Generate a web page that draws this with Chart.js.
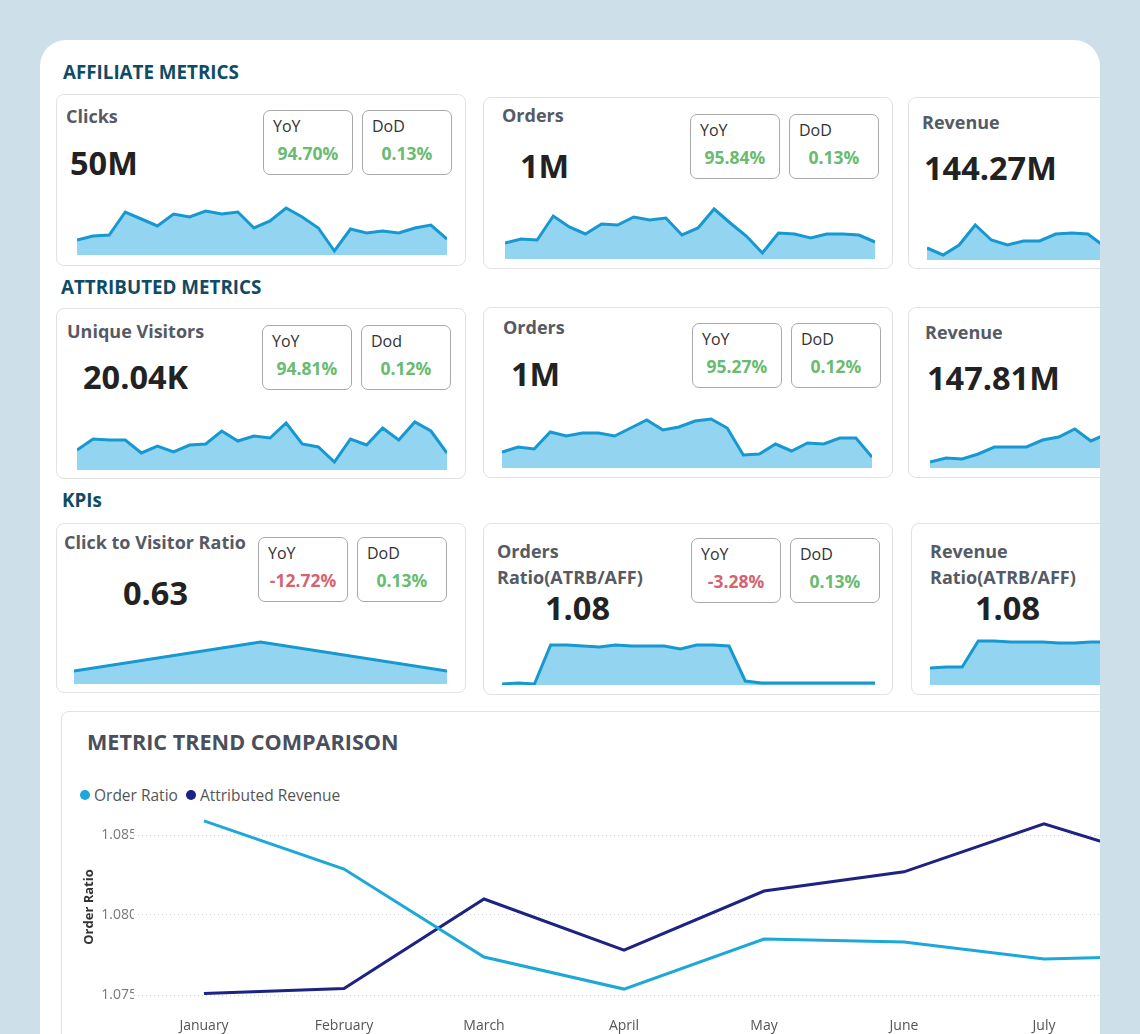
<!DOCTYPE html>
<html>
<head>
<meta charset="utf-8">
<script src="https://cdn.jsdelivr.net/npm/chart.js@4.4.1/dist/chart.umd.min.js"></script>
<style>
  body { margin: 0; width: 1140px; height: 1034px; overflow: hidden; background: #cddfe8; font-family: "Open Sans", sans-serif; }
  #panel { position: absolute; left: 40px; top: 40px; width: 1060px; height: 1100px; background: #fff; border-radius: 26px; overflow: hidden; }
  .abs { position: absolute; white-space: nowrap; }
  .mid { transform: translateY(-50%); }
  .section { font-weight: 700; font-size: 18.8px; color: #0f4c64; }
  .card { position: absolute; background: #fff; border: 1px solid #e2e2e2; border-radius: 8px; box-sizing: border-box; }
  .ctitle { font-weight: 700; font-size: 18px; color: #555a64; line-height: 26px; }
  .cvalue { font-weight: 700; font-size: 32.5px; color: #222; }
  .pill { position: absolute; width: 90px; height: 65px; border: 1px solid #a9a9a9; border-radius: 7px; box-sizing: border-box; }
  .plabel { position: absolute; left: 9px; top: 4px; font-size: 16px; color: #333; }
  .pval { position: absolute; left: 0; right: 0; top: 30px; text-align: center; font-size: 17.5px; font-weight: 700; }
  .legend { position: absolute; display: flex; align-items: center; font-size: 15.5px; color: #555; }
  .legend span.dot { display: inline-block; width: 10px; height: 10px; border-radius: 50%; margin-right: 4px; }
  .legend span.item { margin-right: 8px; display: flex; align-items: center; }
</style>
</head>
<body>
<div id="panel"></div>
<script>
// KPI cards
const cardTitles = ['Clicks', 'Orders', 'Revenue', 'Unique Visitors', 'Orders', 'Revenue',
  'Click to Visitor Ratio', 'Orders\nRatio(ATRB/AFF)', 'Revenue\nRatio(ATRB/AFF)'];
const cardValues = ['50M', '1M', '144.27M', '20.04K', '1M', '147.81M', '0.63', '1.08', '1.08'];
const yoyValues = ['94.70%', '95.84%', null, '94.81%', '95.27%', null, '-12.72%', '-3.28%', null];
const dodValues = ['0.13%', '0.13%', null, '0.12%', '0.12%', null, '0.13%', '0.13%', null];
const dodLabels = ['DoD', 'DoD', 'DoD', 'Dod', 'DoD', 'DoD', 'DoD', 'DoD', 'DoD'];

// daily trend sparklines (relative level)
const clicksTrend = [15, 19, 20, 43, 36, 29, 41, 38, 44, 41, 43, 27, 34, 47, 38, 27, 4, 26, 22, 24, 22, 27, 30, 16];
const affOrdersTrend = [16, 20, 19, 43, 32, 25, 35, 34, 42, 39, 41, 24, 31, 50, 36, 23, 6, 26, 25, 21, 25, 25, 24, 17];
const affRevenueTrend = [12, 5, 15, 35, 20, 15, 19, 19, 26, 27, 26, 14];
const visitorsTrend = [20, 31, 30, 30, 17, 24, 18, 25, 26, 39, 29, 34, 32, 47, 26, 23, 8, 31, 25, 42, 30, 48, 39, 17];
const atrOrdersTrend = [16, 21, 19, 36, 32, 35, 35, 32, 40, 48, 38, 41, 47, 49, 40, 13, 14, 24, 17, 25, 24, 30, 30, 11];
const atrRevenueTrend = [6, 10, 9, 14, 21, 21, 21, 28, 31, 39, 27, 34];
const clickRatioTrend = [13, 42, 13];
const orderRatioTrend = [1, 2, 1, 40, 40, 39, 38, 40, 39, 39, 39, 36, 40, 40, 39, 4, 2, 2, 2, 2, 2, 2, 2, 2];
const revenueRatioTrend = [17, 18, 18, 44, 44, 43, 43, 43, 42, 42, 43, 43];
const sparkSeries = [clicksTrend, affOrdersTrend, affRevenueTrend, visitorsTrend, atrOrdersTrend,
  atrRevenueTrend, clickRatioTrend, orderRatioTrend, revenueRatioTrend];
const sparkDays = [24, 24, 24, 24, 24, 24, 3, 24, 24];

// trend comparison
const months = ['January', 'February', 'March', 'April', 'May', 'June', 'July', 'August'];
const orderRatio = [1.08588, 1.08287, 1.07737, 1.07537, 1.0785, 1.07831, 1.07725, 1.07747];
const attributedRevenue = [17.96, 17.99, 18.55, 18.23, 18.60, 18.72, 19.02, 18.75];
const ratioTicks = [1.075, 1.080, 1.085];

const sections = [['AFFILIATE METRICS', 63, 72], ['ATTRIBUTED METRICS', 61, 287], ['KPIs', 62, 500]];

// page coordinates: box [x,y,w,h], title [x,cy], value [x,cy], pill [x,y], spark [x0,x1,baseline]
const cardLayout = [
  { box: [56, 94, 410, 172], title: [66, 116], value: [70, 162], pill: [263, 110], spark: [77, 447, 255] },
  { box: [483, 97, 410, 172], title: [502, 115], value: [520, 165], pill: [690, 114], spark: [505, 875, 259] },
  { box: [908, 97, 410, 172], title: [922, 122], value: [924, 167], pill: [1115, 113], spark: [927, 1297, 260] },
  { box: [56, 308, 410, 171], title: [67, 331], value: [83, 376], pill: [262, 325], spark: [77, 447, 470] },
  { box: [483, 307, 410, 171], title: [503, 327], value: [511, 373], pill: [692, 323], spark: [502, 872, 468] },
  { box: [908, 307, 410, 171], title: [925, 332], value: [927, 377], pill: [1116, 323], spark: [930, 1300, 468] },
  { box: [56, 523, 410, 170], title: [64, 542], value: [123, 592], pill: [258, 537], spark: [74, 447, 684] },
  { box: [483, 523, 410, 172], title: [497, 551], value: [545, 607], pill: [691, 538], spark: [502, 875, 685] },
  { box: [911, 523, 410, 172], title: [930, 551], value: [975, 607], pill: [1118, 538], spark: [930, 1300, 685] }
];

const OX = 40, OY = 40;
const panel = document.getElementById('panel');
const lineBlue = '#1698d0';
const fillBlue = '#93d5f0';
const green = '#68bb70';
const red = '#d5646f';

function el(tag, cls, x, y, text) {
  const d = document.createElement(tag);
  if (cls) d.className = cls;
  d.style.left = (x - OX) + 'px';
  d.style.top = (y - OY) + 'px';
  if (text != null) d.textContent = text;
  panel.appendChild(d);
  return d;
}

sections.forEach(([t, x, y]) => el('div', 'abs mid section', x, y, t));

function pill(x, y, label, value) {
  const p = el('div', 'pill', x, y);
  const l = document.createElement('div');
  l.className = 'plabel';
  l.textContent = label;
  const v = document.createElement('div');
  v.className = 'pval';
  v.textContent = value;
  v.style.color = value.startsWith('-') ? red : green;
  p.appendChild(l);
  p.appendChild(v);
}

function spark(x0, x1, base, values, count) {
  const h = 60;
  const c = el('canvas', 'abs', x0, base - h);
  c.width = x1 - x0;
  c.height = h;
  new Chart(c, {
    type: 'line',
    data: {
      labels: Array.from({ length: count }, (_, i) => i + 1),
      datasets: [{
        data: values,
        borderColor: lineBlue,
        backgroundColor: fillBlue,
        borderWidth: 3,
        fill: 'start',
        pointRadius: 0,
        tension: 0
      }]
    },
    options: {
      responsive: false,
      animation: false,
      events: [],
      layout: { padding: 0 },
      plugins: { legend: { display: false }, tooltip: { enabled: false } },
      scales: {
        x: { display: false },
        y: { display: false, min: 0, max: h }
      }
    }
  });
}

cardLayout.forEach((c, i) => {
  const [bx, by, bw, bh] = c.box;
  const card = el('div', 'card', bx, by);
  card.style.width = bw + 'px';
  card.style.height = bh + 'px';

  const lines = cardTitles[i].split('\n');
  lines.forEach((ln, k) => el('div', 'abs ctitle', c.title[0], c.title[1] - 13 + k * 26, ln));
  el('div', 'abs mid cvalue', c.value[0], c.value[1], cardValues[i]);

  if (yoyValues[i] != null) pill(c.pill[0], c.pill[1], 'YoY', yoyValues[i]);
  if (dodValues[i] != null) pill(c.pill[0] + 99, c.pill[1], dodLabels[i], dodValues[i]);

  spark(c.spark[0], c.spark[1], c.spark[2], sparkSeries[i], sparkDays[i]);
});

// Metric trend comparison card
const tc = el('div', 'card', 61, 711);
tc.style.width = '1257px';
tc.style.height = '400px';
el('div', 'abs mid', 87, 741, 'METRIC TREND COMPARISON').style.cssText +=
  ';font-weight:700;font-size:21.6px;color:#4a4f5c;';

const datasets = [
  { label: 'Order Ratio', data: orderRatio, borderColor: '#1ca8d8', yAxisID: 'y' },
  { label: 'Attributed Revenue', data: attributedRevenue, borderColor: '#1c2382', yAxisID: 'y1' }
];

const legend = el('div', 'legend mid', 80, 795);
datasets.forEach(ds => {
  const item = document.createElement('span');
  item.className = 'item';
  const dot = document.createElement('span');
  dot.className = 'dot';
  dot.style.background = ds.borderColor;
  item.appendChild(dot);
  item.appendChild(document.createTextNode(ds.label));
  legend.appendChild(item);
});

const trendCanvas = el('canvas', 'abs', 77, 805);
trendCanvas.width = 1177;
trendCanvas.height = 229;

new Chart(trendCanvas, {
  type: 'line',
  data: {
    labels: months,
    datasets: datasets.map(ds => ({
      ...ds,
      borderWidth: 3,
      pointRadius: 0,
      tension: 0,
      fill: false
    }))
  },
  options: {
    responsive: false,
    animation: false,
    events: [],
    layout: { padding: { top: 6, left: 0, right: 0, bottom: 0 } },
    plugins: { legend: { display: false }, tooltip: { enabled: false } },
    scales: {
      x: {
        offset: true,
        grid: { display: false, drawTicks: false },
        border: { display: false },
        ticks: { padding: 15, color: '#555', font: { family: 'Open Sans', size: 14 }, maxRotation: 0 },
        afterFit: s => { s.height = 31; }
      },
      y: {
        min: 1.0745,
        max: 1.0865,
        afterBuildTicks: s => { s.ticks = ratioTicks.map(v => ({ value: v })); },
        afterFit: s => { s.width = 57; },
        grid: { color: '#cfcfcf', drawTicks: false, lineWidth: 1 },
        border: { display: false, dash: [1, 3] },
        ticks: {
          padding: -3,
          color: '#777',
          showLabelBackdrop: true,
          backdropColor: '#ffffff',
          backdropPadding: { left: 0, right: 3, top: 0, bottom: 0 },
          font: { family: 'Open Sans', size: 14 },
          callback: v => Number(v).toFixed(3)
        },
        title: {
          display: true,
          text: 'Order Ratio',
          color: '#333',
          font: { family: 'Open Sans', size: 13, weight: 'bold' }
        }
      },
      y1: {
        display: false,
        position: 'right',
        min: 17.9,
        max: 19.1
      }
    }
  }
});
</script>
</body>
</html>
